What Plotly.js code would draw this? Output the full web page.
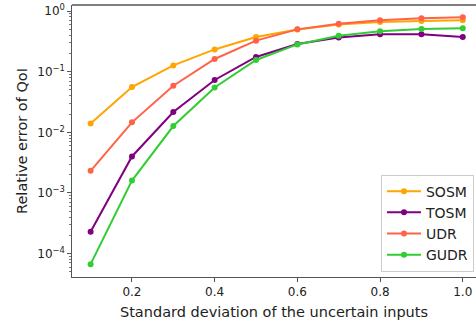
<!DOCTYPE html>
<html>
<head>
<meta charset="utf-8">
<script src="https://cdn.plot.ly/plotly-3.0.1.min.js"></script>
<style>html,body{margin:0;padding:0;background:#fff;}#chart{width:476px;height:323px;}</style>
</head>
<body>
<div id="chart"></div>
<script>
const sigma = [0.1, 0.2, 0.3, 0.4, 0.5, 0.6, 0.7, 0.8, 0.9, 1.0];
const sosm = [0.0140, 0.0559, 0.127, 0.233, 0.373, 0.495, 0.600, 0.660, 0.687, 0.703];
const tosm = [0.00023, 0.0040, 0.0216, 0.073, 0.175, 0.286, 0.368, 0.413, 0.413, 0.373];
const udr  = [0.00232, 0.0146, 0.0587, 0.162, 0.325, 0.499, 0.620, 0.703, 0.758, 0.787];
const gudr = [0.000067, 0.0016, 0.0127, 0.055, 0.156, 0.282, 0.393, 0.463, 0.507, 0.519];
const names = ["SOSM", "TOSM", "UDR", "GUDR"];
const colors = ["#FFA500", "#800080", "#FF6347", "#32CD32"];
const series = [sosm, tosm, udr, gudr];
const yTickVals = [1e-4, 1e-3, 1e-2, 1e-1, 1];
const yTickText = ["10<sup>−4</sup>", "10<sup>−3</sup>", "10<sup>−2</sup>", "10<sup>−1</sup>", "10<sup>0</sup>"];
const xTickVals = [0.2, 0.4, 0.6, 0.8, 1.0];
const xTickText = ["0.2", "0.4", "0.6", "0.8", "1.0"];

// minor tick positions on the log axis (2..9 times each decade)
const minorVals = [];
for (let e = -5; e <= 0; e++) {
  for (let k = 2; k <= 9; k++) minorVals.push(k * Math.pow(10, e));
}

const traces = series.map((s, i) => ({
  x: sigma, y: s, name: names[i], type: "scatter", mode: "lines+markers",
  line: {color: colors[i], width: 2},
  marker: {color: colors[i], size: 6}
}));

const font = "DejaVu Sans, sans-serif";
const layout = {
  width: 476, height: 323,
  margin: {l: 72, r: 0, t: 5, b: 46},
  paper_bgcolor: "#fff", plot_bgcolor: "#fff",
  font: {family: font, color: "#222"},
  showlegend: true,
  legend: {
    x: 0.995, y: 0.02, xanchor: "right", yanchor: "bottom",
    bgcolor: "rgba(255,255,255,0.8)", bordercolor: "#cccccc", borderwidth: 1,
    font: {family: font, size: 14, color: "#222"},
    tracegroupgap: 0, itemwidth: 34
  },
  xaxis: {
    range: [0.055, 1.032],
    tickvals: xTickVals, ticktext: xTickText,
    ticks: "outside", ticklen: 3.5, tickwidth: 1, tickcolor: "#555",
    showline: true, linecolor: "#555", linewidth: 1.2,
    showgrid: false, zeroline: false,
    tickfont: {family: font, size: 12, color: "#222"},
    title: {text: "Standard deviation of the uncertain inputs", font: {family: font, size: 14.5, color: "#222"}, standoff: 8}
  },
  yaxis: {
    type: "log",
    range: [-4.386, 0.1],
    tickvals: yTickVals, ticktext: yTickText,
    ticks: "outside", ticklen: 3.5, tickwidth: 1, tickcolor: "#555",
    minor: {tickmode: "array", tickvals: minorVals, ticks: "outside", ticklen: 2, tickwidth: 0.8, tickcolor: "#555", showgrid: false},
    showline: true, linecolor: "#555", linewidth: 1.2,
    showgrid: false, zeroline: false,
    tickfont: {family: font, size: 12, color: "#222"},
    title: {text: "Relative error of QoI", font: {family: font, size: 14.5, color: "#222"}, standoff: 6}
  },
  shapes: [{type: "line", xref: "paper", yref: "paper", x0: 0, x1: 1, y0: 1, y1: 1, line: {color: "#000", width: 1.2}}]
};
Plotly.newPlot("chart", traces, layout, {displayModeBar: false, staticPlot: true});
</script>
</body>
</html>
